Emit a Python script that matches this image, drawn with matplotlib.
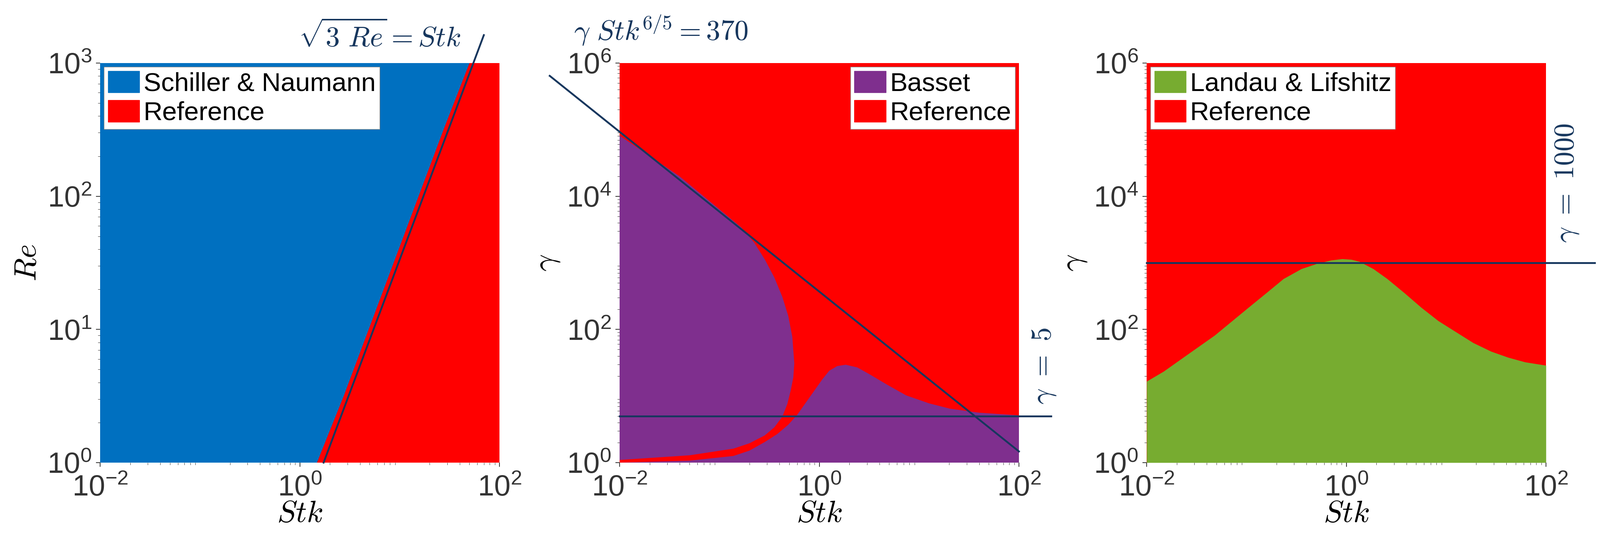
import numpy as np
import matplotlib
matplotlib.use("Agg")
import matplotlib.pyplot as plt
from matplotlib.patches import Patch

plt.rcParams['font.family'] = ['Liberation Sans', 'DejaVu Sans']
plt.rcParams['mathtext.fontset'] = 'cm'

# Panel 1: Schiller & Naumann vs Reference boundary (log10 Re -> log10 Stk)
p1_logRe = [0, 0.5, 1, 1.5, 2, 2.5, 3]
p1_logStk = [0.172, 0.44, 0.69, 0.94, 1.19, 1.44, 1.70]
p1_line_logRe = [0, 3.21]

# Panel 2: Basset region (log10 Stk, log10 gamma)
p2_blob_x = [-2, -1.4, -0.78, -0.65, -0.545, -0.45, -0.37, -0.31, -0.27, -0.25, -0.26, -0.285, -0.32, -0.37, -0.45, -0.545, -0.7, -0.86, -1.3, -2]
p2_blob_y = [4.91, 4.3, 3.53, 3.3, 3.05, 2.78, 2.49, 2.2, 1.89, 1.49, 1.28, 1.09, 0.88, 0.69, 0.53, 0.41, 0.29, 0.21, 0.11, 0.04]
p2_low_x = [-2, -1.3, -0.86, -0.7, -0.545, -0.42, -0.31, -0.22, -0.14, -0.05, 0.03, 0.1, 0.18, 0.265, 0.38, 0.5, 0.68, 0.87, 1.1, 1.31, 1.6, 2]
p2_low_y = [0.0, 0.03, 0.10, 0.18, 0.31, 0.43, 0.57, 0.72, 0.89, 1.08, 1.25, 1.38, 1.45, 1.47, 1.43, 1.33, 1.17, 1.01, 0.89, 0.81, 0.75, 0.71]
p2_const = 370
p2_gamma_h = 5

# Panel 3: Landau & Lifshitz upper boundary
p3_x = [-2, -1.83, -1.67, -1.5, -1.32, -1.15, -0.98, -0.8, -0.63, -0.45, -0.29, -0.15, -0.04, 0.05, 0.13, 0.27, 0.41, 0.58, 0.75, 0.92, 1.10, 1.27, 1.45, 1.62, 1.79, 2]
p3_y = [1.22, 1.37, 1.54, 1.72, 1.91, 2.12, 2.33, 2.55, 2.76, 2.91, 2.99, 3.04, 3.06, 3.05, 3.02, 2.91, 2.76, 2.55, 2.33, 2.13, 1.96, 1.80, 1.67, 1.58, 1.51, 1.46]
p3_gamma_h = 1000

BLUE = '#0070c0'; RED = '#ff0000'; PURPLE = '#7f2f8e'; GREEN = '#77ac30'; NAVY = '#17375e'
xt = [1e-2, 1e0, 1e2]
xtl = [r'$\mathregular{10^{-2}}$', r'$\mathregular{10^{0}}$', r'$\mathregular{10^{2}}$']

W, H = 4235, 1459
fig = plt.figure(figsize=(W/100, H/100), dpi=100)
lefts = [265, 1640, 3035]
axw, axh, top = 1057, 1058, 167
axes = [fig.add_axes([l/W, 1-(top+axh)/H, axw/W, axh/H]) for l in lefts]

def style(ax, ymax, yticks, ylabel):
    ax.set_xscale('log'); ax.set_yscale('log')
    ax.set_xlim(1e-2, 1e2); ax.set_ylim(1, ymax)
    ax.set_xticks(xt); ax.set_xticklabels(xtl)
    ax.set_yticks(yticks)
    ax.set_yticklabels([r'$\mathregular{10^{%d}}$' % int(round(np.log10(v))) for v in yticks])
    ax.tick_params(labelsize=56, length=8, width=1.5, colors='#333333', pad=8)
    ax.tick_params(axis='x', pad=14)
    ax.tick_params(which='minor', length=4)
    ax.set_xlabel(r'$Stk$', fontsize=58, labelpad=-4)
    ax.set_ylabel(ylabel, fontsize=58, labelpad=10)
    for s in ax.spines.values():
        s.set_visible(False)

legkw = dict(fontsize=50, frameon=True, fancybox=False, edgecolor='#888888', framealpha=1,
             borderaxespad=0.15, handlelength=1.2, handleheight=0.9, handletextpad=0.15,
             labelspacing=0.15, borderpad=0.15)

# Panel 1
ax = axes[0]
ax.axvspan(1e-2, 1e2, color=BLUE, lw=0)
rx = [10**v for v in p1_logStk] + [1e2, 1e2]
ry = [10**v for v in p1_logRe] + [1e3, 1]
ax.fill(rx, ry, color=RED, lw=0)
re_line = np.logspace(p1_line_logRe[0], p1_line_logRe[1], 50)
ax.plot(np.sqrt(3*re_line), re_line, color=NAVY, lw=3.5, clip_on=False)
ax.text(10**0.8, 10**3.2, r'$\sqrt{3\ Re} = Stk$', fontsize=54, color=NAVY, ha='center', va='center')
style(ax, 1e3, [1, 10, 100, 1000], r'$Re$')
ax.legend(handles=[Patch(color=BLUE, label='Schiller & Naumann'), Patch(color=RED, label='Reference')],
          loc='upper left', **legkw)

# Panel 2
ax = axes[1]
ax.axvspan(1e-2, 1e2, color=RED, lw=0)
ax.fill([10**v for v in p2_blob_x], [10**v for v in p2_blob_y], color=PURPLE, lw=0)
ax.fill([10**v for v in p2_low_x] + [1e2, 1e-2], [10**v for v in p2_low_y] + [1, 1], color=PURPLE, lw=0)
st = np.logspace(-2.7, 2, 50)
ax.plot(st, p2_const*st**(-1.2), color=NAVY, lw=3.5, clip_on=False)
ax.plot([1e-2, 10**2.32], [p2_gamma_h, p2_gamma_h], color=NAVY, lw=3.5, clip_on=False)
ax.text(10**2.25, 10**1.45, r'$\gamma\ =\ 5$', fontsize=54, color=NAVY, rotation=90, ha='center', va='center')
style(ax, 1e6, [1, 1e2, 1e4, 1e6], r'$\gamma$')
ax.legend(handles=[Patch(color=PURPLE, label='Basset'), Patch(color=RED, label='Reference')],
          loc='upper right', **legkw)
fig.text(1750/W, 1-80/H, r'$\gamma\ Stk^{6/5} = 370$', fontsize=54, color=NAVY, ha='center', va='center')

# Panel 3
ax = axes[2]
ax.axvspan(1e-2, 1e2, color=RED, lw=0)
ax.fill_between([10**v for v in p3_x], 1, [10**v for v in p3_y], color=GREEN, lw=0)
ax.plot([1e-2, 10**2.49], [p3_gamma_h, p3_gamma_h], color=NAVY, lw=3.5, clip_on=False)
ax.text(10**2.21, 10**4.2, r'$\gamma\ =\ 1000$', fontsize=54, color=NAVY, rotation=90, ha='center', va='center')
style(ax, 1e6, [1, 1e2, 1e4, 1e6], r'$\gamma$')
ax.legend(handles=[Patch(color=GREEN, label='Landau & Lifshitz'), Patch(color=RED, label='Reference')],
          loc='upper left', **legkw)

fig.savefig('out.png', dpi=100)
